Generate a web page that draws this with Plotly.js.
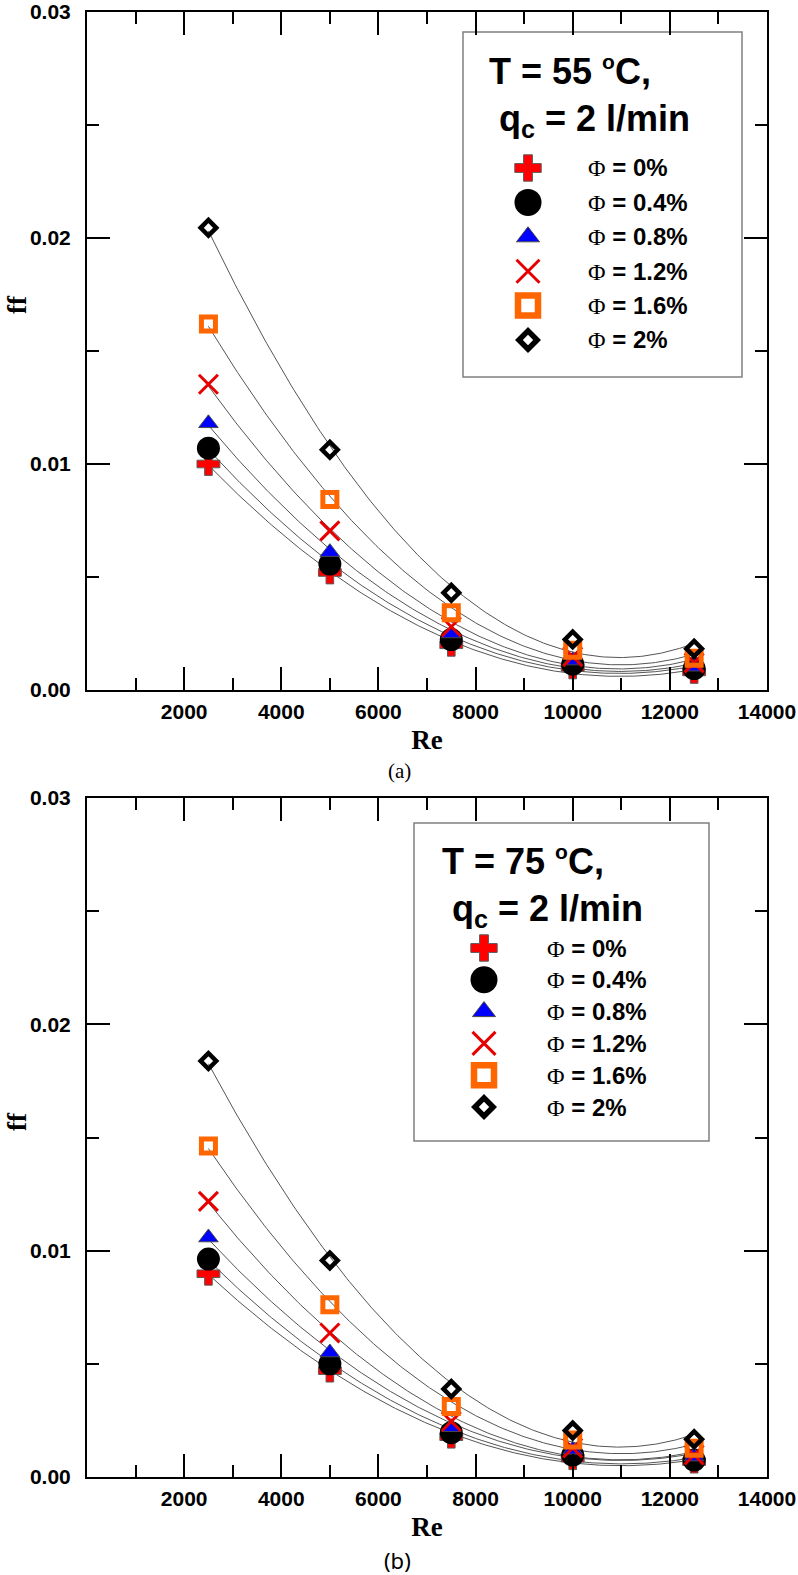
<!DOCTYPE html>
<html>
<head>
<meta charset="utf-8">
<script src="https://cdn.plot.ly/plotly-3.0.1.min.js"></script>
<style>
html,body{margin:0;padding:0;background:#ffffff;}
#chart{width:798px;height:1575px;}
</style>
</head>
<body>
<div id="chart"></div>
<script>
// ---------------- data ----------------
const re = [2500, 5000, 7500, 10000, 12500];
const seriesNames = ['0%', '0.4%', '0.8%', '1.2%', '1.6%', '2%'];
const xTickVals = [2000, 4000, 6000, 8000, 10000, 12000, 14000];
const xTickText = ['2000', '4000', '6000', '8000', '10000', '12000', '14000'];
const yTickVals = [0, 0.01, 0.02, 0.03];
const yTickText = ['0.00', '0.01', '0.02', '0.03'];

// Panel (a): T = 55 °C, qc = 2 l/min
const ffA_phi0  = [0.0100, 0.0052, 0.0020, 0.0010, 0.0008];
const ffA_phi04 = [0.0107, 0.00557, 0.00223, 0.00114, 0.00095];
const ffA_phi08 = [0.0118, 0.0061, 0.0025, 0.0013, 0.00103];
const ffA_phi12 = [0.01353, 0.00704, 0.0028, 0.00147, 0.0012];
const ffA_phi16 = [0.0162, 0.00843, 0.00342, 0.00176, 0.0014];
const ffA_phi2  = [0.02045, 0.01063, 0.0043, 0.00224, 0.00183];

// Panel (b): T = 75 °C, qc = 2 l/min
const ffB_phi0  = [0.00898, 0.0047, 0.00178, 0.00083, 0.00068];
const ffB_phi04 = [0.00963, 0.0050, 0.00196, 0.00097, 0.00075];
const ffB_phi08 = [0.01058, 0.0055, 0.0022, 0.0012, 0.0009];
const ffB_phi12 = [0.01218, 0.00636, 0.00245, 0.00128, 0.00097];
const ffB_phi16 = [0.01462, 0.00761, 0.00311, 0.00164, 0.00127];
const ffB_phi2  = [0.01838, 0.00957, 0.00389, 0.00205, 0.00167];

const panelA = [ffA_phi0, ffA_phi04, ffA_phi08, ffA_phi12, ffA_phi16, ffA_phi2];
const panelB = [ffB_phi0, ffB_phi04, ffB_phi08, ffB_phi12, ffB_phi16, ffB_phi2];

// ---------------- styles ----------------
const markerStyles = [
  {symbol:'cross', size:19, color:'#ff0000', line:{color:'#5a5a5a', width:1}},
  {symbol:'circle', size:23, color:'#000000', line:{color:'#000000', width:0}},
  {symbol:'triangle-up', size:17, color:'#0000ff', line:{color:'#4a4a4a', width:1}},
  {symbol:'x-thin-open', size:19, color:'#e60000', line:{color:'#e60000', width:3}},
  {symbol:'square-open', size:14, color:'#ff6600', line:{color:'#ff6600', width:5}},
  {symbol:'diamond-open', size:12, color:'#000000', line:{color:'#000000', width:4.5}}
];
const keyStyles = [
  {symbol:'cross', size:22, color:'#ff0000', line:{color:'#5a5a5a', width:1}},
  {symbol:'circle', size:27, color:'#000000', line:{color:'#000000', width:0}},
  {symbol:'triangle-up', size:20, color:'#0000ff', line:{color:'#4a4a4a', width:1}},
  {symbol:'x-thin-open', size:23, color:'#e60000', line:{color:'#e60000', width:3}},
  {symbol:'square-open', size:20, color:'#ff6600', line:{color:'#ff6600', width:6.5}},
  {symbol:'diamond-open', size:14, color:'#000000', line:{color:'#000000', width:5.5}}
];

const W = 798, H = 1575;
const M = {l:87, r:31, t:12, b:98};
const PW = W - M.l - M.r, PH = H - M.t - M.b;
const px = p => (p - M.l) / PW;          // page pixel -> paper x
const py = q => (H - M.b - q) / PH;      // page pixel -> paper y

// least-squares 2nd-order fit of each series (the smooth trend curves)
function quadFit(xs, ys) {
  const n = xs.length;
  const mx = xs.reduce((a, b) => a + b, 0) / n, sx = 1000;
  const S = [0,0,0,0,0], T = [0,0,0];
  xs.forEach((x, i) => {
    const t = (x - mx) / sx; let p = 1;
    for (let k = 0; k < 5; k++) { S[k] += p; if (k < 3) T[k] += p * ys[i]; p *= t; }
  });
  const Mx = [[S[0],S[1],S[2]],[S[1],S[2],S[3]],[S[2],S[3],S[4]]];
  const det3 = m => m[0][0]*(m[1][1]*m[2][2]-m[1][2]*m[2][1]) - m[0][1]*(m[1][0]*m[2][2]-m[1][2]*m[2][0]) + m[0][2]*(m[1][0]*m[2][1]-m[1][1]*m[2][0]);
  const D = det3(Mx);
  const c = [0,1,2].map(j => det3(Mx.map((row, r) => row.map((v, k) => k === j ? T[r] : v))) / D);
  return x => { const t = (x - mx) / sx; return c[0] + c[1]*t + c[2]*t*t; };
}

const traces = [];
function addPanel(panel, xa, ya, keyX, keyY) {
  const xmin = Math.min(...re), xmax = Math.max(...re);
  panel.forEach(ys => {
    const f = quadFit(re, ys);
    const cx = [], cy = [];
    for (let k = 0; k <= 200; k++) { const x = xmin + (xmax - xmin) * k / 200; cx.push(x); cy.push(f(x)); }
    traces.push({x: cx, y: cy, xaxis: xa, yaxis: ya, mode: 'lines', type: 'scatter',
      line: {color: '#555555', width: 1}, showlegend: false, hoverinfo: 'skip'});
  });
  panel.forEach((ys, i) => {
    traces.push({x: re, y: ys, xaxis: xa, yaxis: ya, mode: 'markers', type: 'scatter',
      name: 'Φ = ' + seriesNames[i], marker: markerStyles[i], showlegend: false, cliponaxis: false});
  });
  // legend keys
  seriesNames.forEach((nm, i) => {
    traces.push({x: [0], y: [i], xaxis: keyX, yaxis: keyY, mode: 'markers', type: 'scatter',
      marker: keyStyles[i], showlegend: false, hoverinfo: 'skip', cliponaxis: false});
  });
}
addPanel(panelA, 'x', 'y', 'x3', 'y3');
addPanel(panelB, 'x2', 'y2', 'x4', 'y4');

const tickFont = {family: 'Liberation Sans, Arial, sans-serif', size: 21, color: '#000', weight: 'bold'};
const titleFont = {family: 'Liberation Serif, Times New Roman, serif', size: 27, color: '#000', weight: 'bold'};
function xAxis(anchor) {
  return {anchor: anchor, domain: [0, 1], range: [0, 14000], tickmode: 'array', tickvals: xTickVals, ticktext: xTickText,
    showline: true, linecolor: '#000', linewidth: 2, mirror: 'ticks', ticks: 'inside', ticklen: 23, tickwidth: 2, tickcolor: '#000',
    minor: {tickmode: 'linear', tick0: 0, dtick: 1000, ticks: 'inside', ticklen: 12, tickwidth: 2, tickcolor: '#000', showgrid: false},
    showgrid: false, zeroline: false, tickfont: tickFont, ticklabelstandoff: 2, ticklabeloverflow: 'allow',
    title: {text: 'Re', font: titleFont, standoff: 8}};
}
function yAxis(anchor, domain) {
  return {anchor: anchor, domain: domain, range: [0, 0.03], tickmode: 'array', tickvals: yTickVals, ticktext: yTickText,
    showline: true, linecolor: '#000', linewidth: 2, mirror: 'ticks', ticks: 'inside', ticklen: 23, tickwidth: 2, tickcolor: '#000',
    minor: {tickmode: 'linear', tick0: 0, dtick: 0.005, ticks: 'inside', ticklen: 12, tickwidth: 2, tickcolor: '#000', showgrid: false},
    showgrid: false, zeroline: false, tickfont: tickFont, ticklabelstandoff: 10, ticklabeloverflow: 'allow'};
}
const hidden = (anchor, domain, range) => ({anchor: anchor, domain: domain, range: range, visible: false, fixedrange: true, showgrid: false, zeroline: false});

// legend key columns / rows (layout positions)
const keyA = {x: 528, rowTop: 168, rowBot: 340, textX: 586};
const keyB = {x: 484, rowTop: 948, rowBot: 1107, textX: 545};
const rowDomain = k => { const h = (k.rowBot - k.rowTop) / 5 / 2; return [py(k.rowBot + h), py(k.rowTop - h)]; };
const colDomain = k => [px(k.x) - 0.01, px(k.x) + 0.01];

const phiSpan = '<span style="font-family:\'Liberation Serif\',serif;font-weight:normal">Φ</span>';
const entryFont = {family: 'Liberation Sans, Arial, sans-serif', size: 24, color: '#000', weight: 'bold'};
const headFont = {family: 'Liberation Sans, Arial, sans-serif', size: 36, color: '#000', weight: 'bold'};
const degO = '<sup><span style="font-size:21px">o</span></sup>';

const annotations = [];
function legendText(k, yref, temp, hx, hy) {
  annotations.push({xref: 'paper', yref: 'paper', x: px(hx), y: py(hy), xanchor: 'left', yanchor: 'middle', align: 'left', showarrow: false,
    text: 'T = ' + temp + ' ' + degO + 'C,<br>\u00a0q<sub>c</sub> = 2 l/min', font: headFont});
  seriesNames.forEach((nm, i) => {
    annotations.push({xref: 'paper', yref: yref, x: px(k.textX), y: i, xanchor: 'left', yanchor: 'middle', showarrow: false,
      text: phiSpan + ' = ' + nm, font: entryFont});
  });
}
legendText(keyA, 'y3', '55', 487, 96);
legendText(keyB, 'y4', '75', 440, 886);
// y-axis titles
annotations.push({xref: 'paper', yref: 'paper', x: px(17), y: py(305), xanchor: 'center', yanchor: 'middle', textangle: -90, showarrow: false,
  text: 'ff', font: titleFont});
annotations.push({xref: 'paper', yref: 'paper', x: px(17), y: py(1122), xanchor: 'center', yanchor: 'middle', textangle: -90, showarrow: false,
  text: 'ff', font: titleFont});
annotations.push({xref: 'paper', yref: 'paper', x: px(399), y: py(771), xanchor: 'center', yanchor: 'middle', showarrow: false,
  text: '(a)', font: {family: 'Liberation Serif, Times New Roman, serif', size: 21, color: '#000'}});
annotations.push({xref: 'paper', yref: 'paper', x: px(397), y: py(1560), xanchor: 'center', yanchor: 'middle', showarrow: false,
  text: '(b)', font: {family: 'Noto Sans, Open Sans, sans-serif', size: 22, color: '#000'}});

const shapes = [
  {type: 'rect', xref: 'paper', yref: 'paper', x0: px(463), x1: px(742), y0: py(377), y1: py(32), layer: 'below',
    line: {color: '#808080', width: 1.5}, fillcolor: '#ffffff'},
  {type: 'rect', xref: 'paper', yref: 'paper', x0: px(414), x1: px(709), y0: py(1141), y1: py(823), layer: 'below',
    line: {color: '#808080', width: 1.5}, fillcolor: '#ffffff'}
];

const layout = {
  width: W, height: H, margin: M, paper_bgcolor: '#ffffff', plot_bgcolor: '#ffffff', showlegend: false,
  xaxis: xAxis('y'), yaxis: yAxis('x', [py(690), 1]),
  xaxis2: xAxis('y2'), yaxis2: yAxis('x2', [0, py(798)]),
  xaxis3: hidden('y3', colDomain(keyA), [-1, 1]), yaxis3: hidden('x3', rowDomain(keyA), [5.5, -0.5]),
  xaxis4: hidden('y4', colDomain(keyB), [-1, 1]), yaxis4: hidden('x4', rowDomain(keyB), [5.5, -0.5]),
  annotations: annotations, shapes: shapes
};
Plotly.newPlot('chart', traces, layout, {staticPlot: true, displayModeBar: false});
</script>
</body>
</html>
